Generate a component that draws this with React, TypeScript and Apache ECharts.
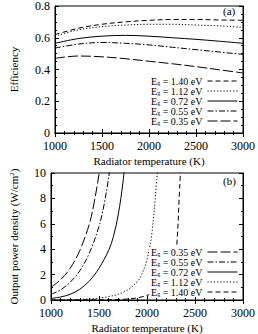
import React, { useEffect, useRef } from "react";
import * as echarts from "echarts";

// ---- Panel (a): efficiency vs radiator temperature ----
const effTemps = [1000, 1250, 1500, 1750, 2000, 2250, 2500, 2750, 3000];
const eff140 = [0.62, 0.66, 0.685, 0.70, 0.71, 0.715, 0.715, 0.712, 0.71];
const eff112 = [0.61, 0.65, 0.67, 0.68, 0.685, 0.685, 0.68, 0.675, 0.665];
const eff072 = [0.565, 0.595, 0.61, 0.615, 0.61, 0.60, 0.59, 0.578, 0.565];
const eff055 = [0.535, 0.56, 0.57, 0.565, 0.555, 0.54, 0.525, 0.51, 0.495];
const eff035 = [0.47, 0.485, 0.48, 0.468, 0.452, 0.436, 0.418, 0.398, 0.378];

// ---- Panel (b): output power density (W/cm^2) ----
const pw035T = [1000, 1100, 1200, 1300, 1400, 1450, 1500, 1550];
const pw035 = [1.0, 1.6, 2.5, 3.9, 6.0, 7.7, 9.9, 12.8];
const pw055T = [1000, 1100, 1200, 1300, 1400, 1500, 1550, 1600, 1650];
const pw055 = [0.45, 0.8, 1.4, 2.3, 3.7, 5.8, 7.4, 9.6, 12.3];
const pw072T = [1000, 1100, 1200, 1300, 1400, 1500, 1600, 1650, 1700, 1750, 1800];
const pw072 = [0.12, 0.24, 0.45, 0.85, 1.5, 2.5, 3.9, 5.0, 6.7, 9.3, 13];
const pw112T = [1000, 1200, 1400, 1500, 1600, 1700, 1800, 1900, 1950, 2000, 2050, 2100, 2150];
const pw112 = [0.003, 0.02, 0.08, 0.15, 0.27, 0.45, 0.8, 1.45, 2.1, 3.2, 5.2, 9.3, 14];
const pw140T = [1000, 1400, 1600, 1700, 1800, 1900, 2000, 2100, 2200, 2250, 2300, 2340, 2380];
const pw140 = [0, 0.005, 0.02, 0.04, 0.08, 0.17, 0.36, 0.7, 1.3, 2.0, 3.5, 8.8, 15];

const legendTop = ["1.40", "1.12", "0.72", "0.55", "0.35"];
const legendBottom = ["0.35", "0.55", "0.72", "1.12", "1.40"];

const styles: Record<string, any> = {
  "1.40": { type: [5, 3], width: 1 },
  "1.12": { type: [1.2, 2], width: 1 },
  "0.72": { type: "solid", width: 1 },
  "0.55": { type: [6, 2, 1.5, 2], width: 1 },
  "0.35": { type: [10, 3], width: 1 },
};

const FONT = "'Liberation Serif', 'Times New Roman', serif";

function pairs(xs: number[], ys: number[]) {
  return xs.map((x, i) => [x, ys[i]]);
}

export default function App() {
  const ref = useRef<HTMLDivElement>(null);
  useEffect(() => {
    if (!ref.current) return;
    const chart = echarts.init(ref.current, null, { renderer: "svg" });

    const mkLine = (name: string, data: number[][], idx: number) => ({
      name,
      type: "line",
      xAxisIndex: idx,
      yAxisIndex: idx,
      data,
      symbol: "none",
      showSymbol: false,
      smooth: 0.35,
      clip: true,
      lineStyle: { color: "#000", ...styles[name] },
      itemStyle: { color: "#000" },
    });

    const xBase = (gridIndex: number, showName: boolean) => ({
      type: "value",
      gridIndex,
      min: 1000,
      max: 3000,
      interval: 500,
      position: "bottom",
      name: showName ? "Radiator temperature (K)" : "",
      nameLocation: "middle",
      nameGap: 22,
      nameTextStyle: { fontFamily: FONT, fontSize: 11, color: "#000" },
      axisLine: { lineStyle: { color: "#000", width: 1 } },
      axisTick: { inside: true, length: 4, lineStyle: { color: "#000" } },
      minorTick: { show: true, splitNumber: 5, length: 2, lineStyle: { color: "#000" } },
      axisLabel: {
        fontFamily: FONT,
        fontSize: 12,
        lineHeight: 12,
        color: "#000",
        margin: 7,
        formatter: (v: number) => String(v),
      },
      splitLine: { show: false },
    });
    const xTop = (gridIndex: number) => ({
      ...xBase(gridIndex, false),
      position: "top",
      axisLabel: { show: false },
    });

    const legendBase = (data: string[], top: number) => ({
      data,
      right: 20,
      top,
      orient: "vertical",
      align: "right",
      itemWidth: 30,
      itemHeight: 8,
      itemGap: 0,
      padding: [0, 0, 0, 2],
      backgroundColor: "#fff",
      selectedMode: false,
      itemStyle: { color: "rgba(0,0,0,0)", borderWidth: 0, opacity: 0 },
      lineStyle: { width: 1 },
      formatter: (n: string) => `{e|E}{g|g}{e| = ${n} eV}`,
      textStyle: {
        fontFamily: FONT,
        fontSize: 10,
        color: "#000",
        lineHeight: 10,
        rich: {
          e: { fontFamily: FONT, fontSize: 10, color: "#000", lineHeight: 10 },
          g: { fontFamily: FONT, fontSize: 6, color: "#000", lineHeight: 6, verticalAlign: "bottom" },
        },
      },
    });

    const yLabel = (fmt?: (v: number) => string) => ({
      fontFamily: FONT,
      fontSize: 12,
      lineHeight: 12,
      color: "#000",
      margin: 5,
      formatter: fmt,
    });

    const option: any = {
      animation: false,
      grid: [
        { left: 48, right: 11, top: 5, height: 128, show: true, borderColor: "#000", borderWidth: 1 },
        { left: 48, right: 11, top: 173, height: 128, show: true, borderColor: "#000", borderWidth: 1 },
      ],
      xAxis: [xBase(0, true), xBase(1, true), xTop(0), xTop(1)],
      yAxis: [
        {
          type: "value",
          gridIndex: 0,
          min: 0,
          max: 0.8,
          interval: 0.2,
          name: "Efficiency",
          nameLocation: "middle",
          nameGap: 36,
          nameTextStyle: { fontFamily: FONT, fontSize: 11, color: "#000" },
          axisLine: { show: true, lineStyle: { color: "#000" } },
          axisTick: { inside: true, length: 4, lineStyle: { color: "#000" } },
          minorTick: { show: true, splitNumber: 4, length: 2, lineStyle: { color: "#000" } },
          axisLabel: yLabel((v: number) => (v === 0 ? "0" : v.toFixed(1))),
          splitLine: { show: false },
        },
        {
          type: "value",
          gridIndex: 1,
          min: 0,
          max: 10,
          interval: 2,
          name: "Output power density (W/cm{sup|2})",
          nameLocation: "middle",
          nameGap: 31,
          nameTextStyle: {
            fontFamily: FONT,
            fontSize: 11,
            color: "#000",
            rich: {
              sup: { fontFamily: FONT, fontSize: 7, color: "#000", verticalAlign: "top", padding: [0, 0, 5, 0] },
            },
          },
          axisLine: { show: true, lineStyle: { color: "#000" } },
          axisTick: { inside: true, length: 4, lineStyle: { color: "#000" } },
          minorTick: { show: true, splitNumber: 2, length: 2, lineStyle: { color: "#000" } },
          axisLabel: yLabel((v: number) => String(v)),
          splitLine: { show: false },
        },
        {
          type: "value",
          gridIndex: 0,
          min: 0,
          max: 0.8,
          interval: 0.2,
          position: "right",
          axisLine: { show: true, lineStyle: { color: "#000" } },
          axisTick: { inside: true, length: 4, lineStyle: { color: "#000" } },
          minorTick: { show: true, splitNumber: 4, length: 2, lineStyle: { color: "#000" } },
          axisLabel: { show: false },
          splitLine: { show: false },
        },
        {
          type: "value",
          gridIndex: 1,
          min: 0,
          max: 10,
          interval: 2,
          position: "right",
          axisLine: { show: true, lineStyle: { color: "#000" } },
          axisTick: { inside: true, length: 4, lineStyle: { color: "#000" } },
          minorTick: { show: true, splitNumber: 2, length: 2, lineStyle: { color: "#000" } },
          axisLabel: { show: false },
          splitLine: { show: false },
        },
      ],
      legend: [legendBase(legendTop, 76), legendBase(legendBottom, 247)],
      graphic: [
        { type: "text", left: 223, top: 5, style: { text: "(a)", font: `11px ${FONT}`, fill: "#000" } },
        { type: "text", left: 223, top: 175, style: { text: "(b)", font: `11px ${FONT}`, fill: "#000" } },
      ],
      series: [
        mkLine("1.40", pairs(effTemps, eff140), 0),
        mkLine("1.12", pairs(effTemps, eff112), 0),
        mkLine("0.72", pairs(effTemps, eff072), 0),
        mkLine("0.55", pairs(effTemps, eff055), 0),
        mkLine("0.35", pairs(effTemps, eff035), 0),
        mkLine("0.35", pairs(pw035T, pw035), 1),
        mkLine("0.55", pairs(pw055T, pw055), 1),
        mkLine("0.72", pairs(pw072T, pw072), 1),
        mkLine("1.12", pairs(pw112T, pw112), 1),
        mkLine("1.40", pairs(pw140T, pw140), 1),
      ],
    };
    chart.setOption(option);
    return () => chart.dispose();
  }, []);
  return (
    <div
      ref={ref}
      style={{ position: "fixed", left: 0, top: 0, width: 258, height: 334, background: "#fff" }}
    />
  );
}
